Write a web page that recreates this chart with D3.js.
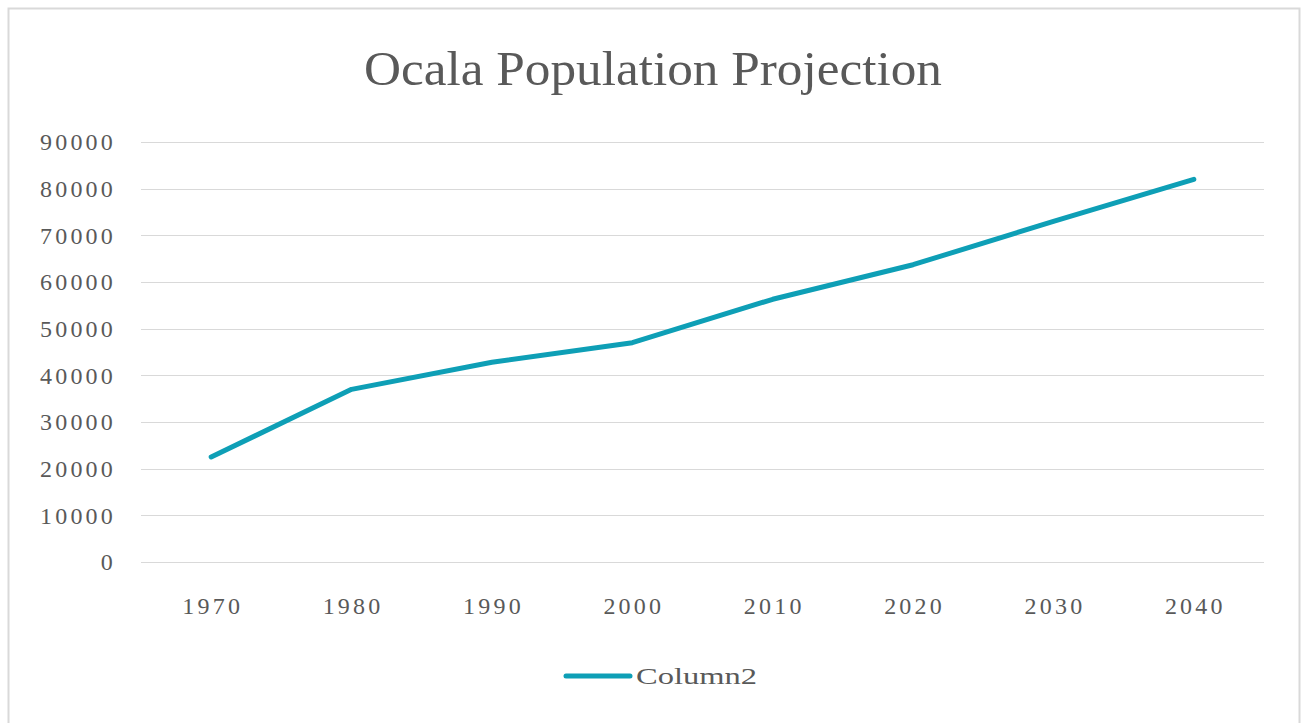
<!DOCTYPE html>
<html>
<head>
<meta charset="utf-8">
<script src="https://cdn.jsdelivr.net/npm/d3@7/dist/d3.min.js"></script>
<style>
  html, body { margin: 0; padding: 0; background: #ffffff; }
  svg { display: block; }
  text { font-family: "Liberation Serif", "DejaVu Serif", serif; fill: #595959; }
</style>
</head>
<body>
<svg id="chart" width="1304" height="723"></svg>
<script>
// Ocala population, census years and projections
const years = ["1970", "1980", "1990", "2000", "2010", "2020", "2030", "2040"];
const population = [22500, 37000, 42800, 47000, 56300, 63700, 73000, 82000];
const yTicks = [0, 10000, 20000, 30000, 40000, 50000, 60000, 70000, 80000, 90000];
const seriesName = "Column2";
const chartTitle = "Ocala Population Projection";

const W = 1304, H = 723;
const margin = { left: 141, right: 40, top: 142, bottom: 161 };
const lineColor = "#0e9fb6";

const svg = d3.select("#chart");

// chart area frame
svg.append("rect")
  .attr("x", 8.5).attr("y", 8.5)
  .attr("width", 1291).attr("height", 730)
  .attr("fill", "#ffffff")
  .attr("stroke", "#d9d9d9").attr("stroke-width", 2);

const x = d3.scaleBand()
  .domain(years)
  .range([margin.left, W - margin.right])
  .paddingInner(0).paddingOuter(0);

const y = d3.scaleLinear()
  .domain([0, 90000])
  .range([H - margin.bottom, margin.top]);

// horizontal gridlines
svg.append("g")
  .selectAll("line")
  .data(yTicks)
  .join("line")
  .attr("x1", x.range()[0]).attr("x2", x.range()[1])
  .attr("y1", d => Math.round(y(d)) + 0.5)
  .attr("y2", d => Math.round(y(d)) + 0.5)
  .attr("stroke", "#d9d9d9").attr("stroke-width", 1.2);

// y axis labels
const yAxis = d3.axisLeft(y).tickValues(yTicks).tickSize(0).tickPadding(0)
  .tickFormat(d3.format("d"));
const gy = svg.append("g")
  .attr("transform", `translate(${margin.left - 25},0)`)
  .call(yAxis);
gy.select(".domain").remove();
gy.selectAll("text")
  .style("font-family", '"Liberation Serif", serif')
  .style("font-size", "24px")
  .style("letter-spacing", "3.2px")
  .style("fill", "#595959");

// x axis labels
const xAxis = d3.axisBottom(x).tickSize(0).tickPadding(0);
const gx = svg.append("g")
  .attr("transform", `translate(1.5,${H - margin.bottom + 35})`)
  .call(xAxis);
gx.select(".domain").remove();
gx.selectAll("text")
  .style("font-family", '"Liberation Serif", serif')
  .style("font-size", "24px")
  .style("letter-spacing", "3.2px")
  .style("fill", "#595959");

// the series line
const line = d3.line()
  .x((d, i) => x(years[i]) + x.bandwidth() / 2)
  .y(d => y(d));

svg.append("path")
  .datum(population)
  .attr("d", line)
  .attr("fill", "none")
  .attr("stroke", lineColor)
  .attr("stroke-width", 5)
  .attr("stroke-linecap", "round")
  .attr("stroke-linejoin", "round");

// title
svg.append("text")
  .attr("x", W / 2 + 1).attr("y", 85)
  .attr("text-anchor", "middle")
  .attr("textLength", 578)
  .attr("lengthAdjust", "spacingAndGlyphs")
  .style("font-size", "49px")
  .style("fill", "#595959")
  .text(chartTitle);

// legend
const legend = svg.append("g").attr("transform", "translate(566,676)");
legend.append("line")
  .attr("x1", 0).attr("x2", 64)
  .attr("y1", 0).attr("y2", 0)
  .attr("stroke", lineColor).attr("stroke-width", 5)
  .attr("stroke-linecap", "round");
legend.append("text")
  .attr("x", 70).attr("y", 8)
  .attr("textLength", 121)
  .attr("lengthAdjust", "spacingAndGlyphs")
  .style("font-size", "24px")
  .style("fill", "#595959")
  .text(seriesName);
</script>
</body>
</html>
